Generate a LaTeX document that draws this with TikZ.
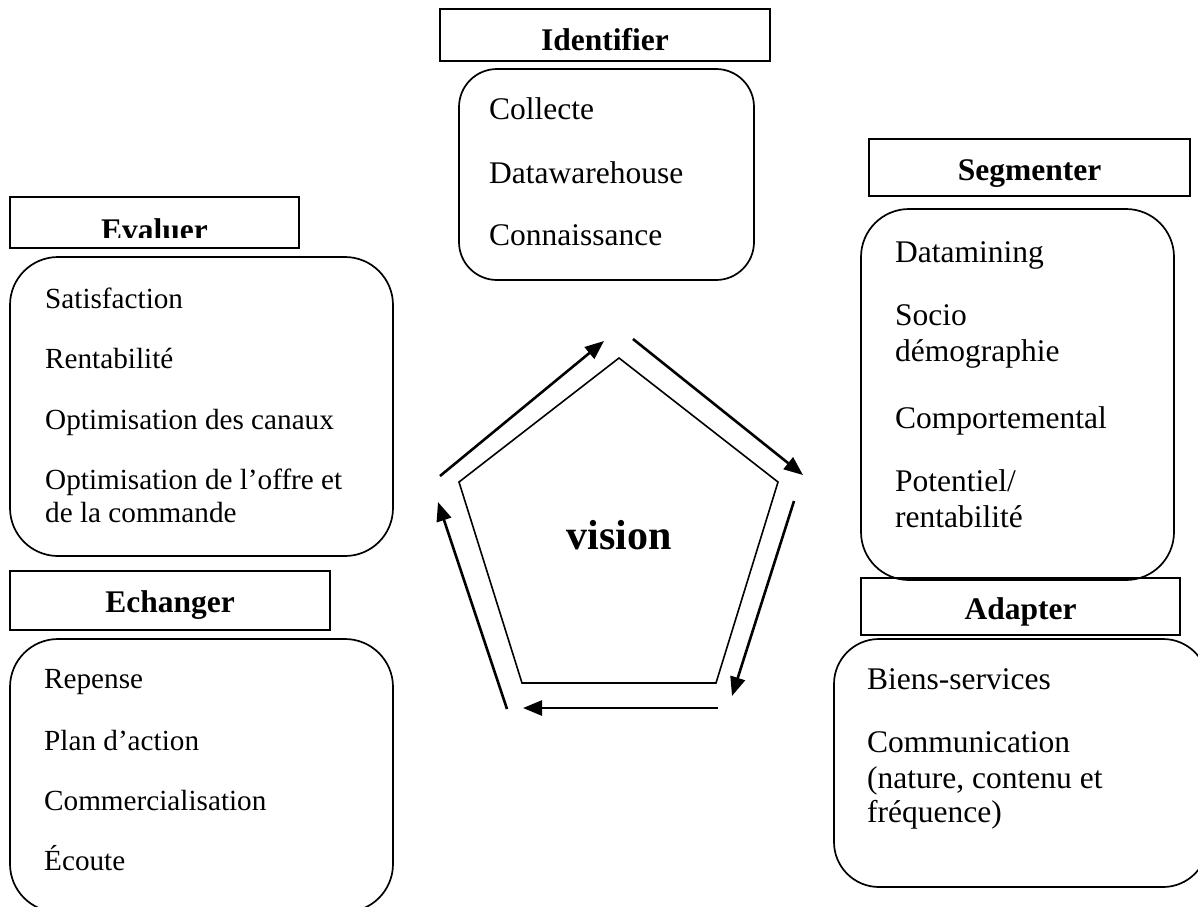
\documentclass[tikz,border=0pt]{standalone}
\usepackage{fontspec}
\setmainfont{Liberation Serif}
\usetikzlibrary{arrows.meta}
\tikzset{
  hdrbox/.style={draw=black,line width=1.6pt},
  roundbox/.style={draw=black,line width=1.7pt},
  hdrtext/.style={anchor=base,inner sep=0pt,font=\fontsize{31.5}{34}\selectfont\bfseries},
  itemA/.style={anchor=base west,inner sep=0pt,font=\fontsize{31.5}{34}\selectfont},
  itemB/.style={anchor=base west,inner sep=0pt,font=\fontsize{29.2}{33}\selectfont},
  penta/.style={draw=black,line width=1.6pt,line join=miter},
  flow/.style={draw=black,line width=2.6pt,-{Triangle[length=19pt,width=15pt]}}
}
\begin{document}
\begin{tikzpicture}[x=1pt,y=-1pt]
\useasboundingbox (0,0) rectangle (1198,906);
\clip (0,0) rectangle (1198,906);
\fill[white] (0,0) rectangle (1198,906);

% ---------- Identifier ----------
\draw[hdrbox] (440,9) rectangle (770,61);
\node[hdrtext] (tid) at (605,50) {Identifier};
\draw[roundbox,rounded corners=38pt] (459,69) rectangle (754,280);
\node[itemA] (id1) at (489,119) {Collecte};
\node[itemA] (id2) at (489,183) {Datawarehouse};
\node[itemA] (id3) at (489,245) {Connaissance};

% ---------- Segmenter ----------
\draw[hdrbox] (869,139) rectangle (1190,196);
\node[hdrtext] (tseg) at (1029.5,180) {Segmenter};
\draw[roundbox,rounded corners=48pt] (861,209) rectangle (1174,580);
\node[itemA] (sg1) at (895,262) {Datamining};
\node[itemA] (sg2) at (895,325) {Socio};
\node[itemA] (sg3) at (895,361) {démographie};
\node[itemA] (sg4) at (895,428) {Comportemental};
\node[itemA] (sg5) at (895,491) {Potentiel/};
\node[itemA] (sg6) at (895,527) {rentabilité};

% ---------- Evaluer ----------
\draw[hdrbox] (10,197) rectangle (299,248);
\begin{scope}
  \clip (10,197) rectangle (299,237);
  \node[hdrtext] (tev) at (154.5,240) {Evaluer};
\end{scope}
\draw[roundbox,rounded corners=48pt] (10,257) rectangle (393,556);
\node[itemB] (ev1) at (45,308) {Satisfaction};
\node[itemB] (ev2) at (45,368) {Rentabilité};
\node[itemB] (ev3) at (45,429) {Optimisation des canaux};
\node[itemB] (ev4) at (45,489) {Optimisation de l’offre et};
\node[itemB] (ev5) at (45,522) {de la commande};

% ---------- Echanger ----------
\draw[hdrbox] (10,571) rectangle (330,630);
\node[hdrtext] (tech) at (170,612) {Echanger};
\draw[roundbox,rounded corners=48pt] (10,639) rectangle (393,912);
\node[itemB] (ec1) at (44,688) {Repense};
\node[itemB] (ec2) at (44,750) {Plan d’action};
\node[itemB] (ec3) at (44,810) {Commercialisation};
\node[itemB] (ec4) at (44,870) {Écoute};

% ---------- Adapter ----------
\draw[hdrbox] (861,578) rectangle (1180,635);
\node[hdrtext] (tad) at (1020.5,619) {Adapter};
\draw[roundbox,rounded corners=45pt] (834,639) rectangle (1208,887);
\node[itemA] (ad1) at (867,689) {Biens-services};
\node[itemA] (ad2) at (867,752) {Communication};
\node[itemA] (ad3) at (867,788) {(nature, contenu et};
\node[itemA] (ad4) at (867,822) {fréquence)};

% ---------- Pentagon ----------
\coordinate (pT) at (619,358);
\coordinate (pR) at (778,482);
\coordinate (pBR) at (716,683);
\coordinate (pBL) at (522,683);
\coordinate (pL) at (459,482);
\draw[penta] (pT) -- (pR) -- (pBR) -- (pBL) -- (pL) -- cycle;
\node[anchor=base,inner sep=0pt,font=\fontsize{42}{46}\selectfont\bfseries] (vision) at (619,549) {vision};

% ---------- Arrows ----------
\coordinate (a1s) at (440,476);  \coordinate (a1e) at (604,341);
\coordinate (a2s) at (633,339);  \coordinate (a2e) at (803,475);
\coordinate (a3s) at (794,501);  \coordinate (a3e) at (732,696);
\coordinate (a4s) at (718,708);  \coordinate (a4e) at (523,708);
\coordinate (a5s) at (507,709);  \coordinate (a5e) at (438,502);
\draw[flow] (a1s) -- (a1e);
\draw[flow] (a2s) -- (a2e);
\draw[flow] (a3s) -- (a3e);
\draw[flow] (a4s) -- (a4e);
\draw[flow] (a5s) -- (a5e);
\end{tikzpicture}
\end{document}
